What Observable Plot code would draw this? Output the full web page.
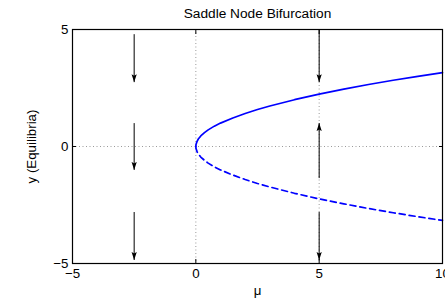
<!DOCTYPE html>
<html>
<head>
<meta charset="utf-8">
<script src="https://cdn.jsdelivr.net/npm/d3@7"></script>
<script src="https://cdn.jsdelivr.net/npm/@observablehq/plot@0.6"></script>
<style>
  html, body { margin: 0; padding: 0; background: #fff; }
  svg { display: block; }
</style>
</head>
<body>
<div id="chart"></div>
<script>
// ---- data ----
const title = "Saddle Node Bifurcation";
const xLabel = "μ";
const yLabel = "y (Equilibria)";
const xTicks = [-5, 0, 5, 10];
const yTicks = [-5, 0, 5];

// stable branch (solid)
const muStable = [0, 0.01, 0.05, 0.1, 0.2, 0.35, 0.5, 0.75, 1, 1.5, 2, 2.5, 3, 4, 5, 6, 7, 8, 9, 10];
const yStable  = [0, 0.1, 0.22, 0.32, 0.45, 0.59, 0.71, 0.87, 1, 1.22, 1.41, 1.58, 1.73, 2, 2.24, 2.45, 2.65, 2.83, 3, 3.16];
// unstable branch (dashed)
const muUnstable = [0, 0.01, 0.05, 0.1, 0.2, 0.35, 0.5, 0.75, 1, 1.5, 2, 2.5, 3, 4, 5, 6, 7, 8, 9, 10];
const yUnstable  = [0, -0.1, -0.22, -0.32, -0.45, -0.59, -0.71, -0.87, -1, -1.22, -1.41, -1.58, -1.73, -2, -2.24, -2.45, -2.65, -2.83, -3, -3.16];

// flow arrows
const arrowMu    = [-2.5, -2.5, -2.5, 5, 5, 5];
const arrowFrom  = [4.8, 1, -2.8, 5, -1.35, -2.8];
const arrowTo    = [2.75, -1, -4.85, 2.75, 1, -4.85];

// dotted reference lines
const refX = [0, 5];
const refY = [0];

// ---- build tables ----
const stable = muStable.map((m, i) => ({mu: m, y: yStable[i]}));
const unstable = muUnstable.map((m, i) => ({mu: m, y: yUnstable[i]}));
const arrows = arrowMu.map((m, i) => ({mu: m, y1: arrowFrom[i], y2: arrowTo[i]}));

function head(color) {
  const m = d3.create("svg:marker")
    .attr("viewBox", "-8 -3 8 6")
    .attr("markerWidth", 8)
    .attr("markerHeight", 6)
    .attr("markerUnits", "userSpaceOnUse")
    .attr("orient", "auto")
    .attr("refX", 0)
    .attr("refY", 0)
    .attr("fill", "black")
    .attr("stroke", "none");
  m.append("path").attr("d", "M0,0L-8,-2.6L-6.5,0L-8,2.6Z");
  return m.node();
}

const font = "'Liberation Sans', Arial, Helvetica, sans-serif";
const fs = 13.3;
const fmt = d => d < 0 ? "\u2212" + Math.abs(d) : String(d);

const plot = Plot.plot({
  width: 445,
  height: 299,
  marginTop: 29,
  marginBottom: 36,
  marginLeft: 72,
  marginRight: 3,
  style: {fontFamily: font, fontSize: fs + "px", color: "black", background: "white", overflow: "visible"},
  x: {domain: [-5, 10]},
  y: {domain: [-5, 5]},
  marks: [
    Plot.ruleX(refX, {stroke: "#9a9a9a", strokeDasharray: "1,2.5", strokeWidth: 1}),
    Plot.ruleY(refY, {stroke: "#9a9a9a", strokeDasharray: "1,2.5", strokeWidth: 1}),
    Plot.line(stable, {x: "mu", y: "y", stroke: "#0000ff", strokeWidth: 1.7}),
    Plot.line(unstable, {x: "mu", y: "y", stroke: "#0000ff", strokeWidth: 1.7, strokeDasharray: "6,4"}),
    Plot.link(arrows, {x1: "mu", x2: "mu", y1: "y1", y2: "y2", stroke: "black", strokeWidth: 1, markerEnd: head}),
    // inward ticks
    Plot.axisY(yTicks, {anchor: "left", tickSize: -4, text: null, label: null, stroke: "black"}),
    Plot.axisY(yTicks, {anchor: "right", tickSize: -4, text: null, label: null, stroke: "black"}),
    Plot.axisX(xTicks, {anchor: "bottom", tickSize: -4, text: null, label: null, stroke: "black"}),
    Plot.axisX(xTicks, {anchor: "top", tickSize: -4, text: null, label: null, stroke: "black"}),
    // tick labels
    Plot.axisY(yTicks, {anchor: "left", tickSize: 0, tickPadding: 4, label: null, fontSize: fs, fill: "black", tickFormat: fmt}),
    Plot.axisX(xTicks, {anchor: "bottom", tickSize: 0, tickPadding: 5, label: null, fontSize: fs, fill: "black", tickFormat: fmt}),
    Plot.frame({stroke: "black", strokeWidth: 1.2}),
    // titles
    Plot.text([title], {frameAnchor: "top", dy: -16, textAnchor: "middle", lineAnchor: "middle", fontSize: fs + 0.4, fill: "black", text: d => d}),
    Plot.text([xLabel], {frameAnchor: "bottom", dy: 27, textAnchor: "middle", lineAnchor: "middle", fontSize: fs, fill: "black", text: d => d}),
    Plot.text([yLabel], {frameAnchor: "left", dx: -41, rotate: -90, textAnchor: "middle", lineAnchor: "middle", fontSize: fs, fill: "black", text: d => d})
  ]
});
document.getElementById("chart").appendChild(plot);
</script>
</body>
</html>
